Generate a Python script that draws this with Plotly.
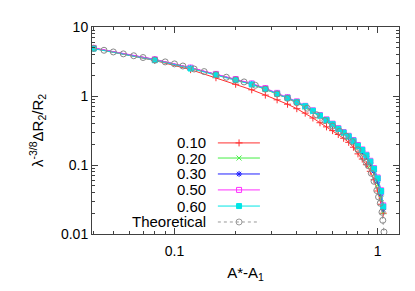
import plotly.graph_objects as go

# ---------------- data ----------------
THEORY_X = [0.04, 0.045, 0.05, 0.056, 0.063, 0.07, 0.08, 0.09, 0.1, 0.11, 0.125, 0.14,
            0.16, 0.18, 0.2, 0.22, 0.25, 0.28, 0.32, 0.36, 0.4, 0.45, 0.5, 0.55, 0.6,
            0.65, 0.7, 0.75, 0.8, 0.85, 0.88, 0.9, 0.93, 0.96, 0.99, 1.01, 1.03, 1.05,
            1.06, 1.074]
THEORY_Y = [4.91, 4.60, 4.35, 4.08, 3.83, 3.61, 3.34, 3.12, 2.92, 2.72, 2.46, 2.26,
            2.04, 1.87, 1.72, 1.60, 1.43, 1.26, 1.07, 0.925, 0.80, 0.665, 0.536, 0.44, 0.366,
            0.308, 0.262, 0.218, 0.166, 0.129, 0.109, 0.098, 0.076, 0.058, 0.0427, 0.0344, 0.0279, 0.0207,
            0.0158, 0.0107]

SIM_X = [0.04, 0.08, 0.12, 0.16, 0.2, 0.24, 0.28, 0.32, 0.36, 0.4, 0.44, 0.48, 0.52,
         0.56, 0.6, 0.64, 0.68, 0.72, 0.76, 0.8, 0.84, 0.88, 0.92, 0.96, 1.0, 1.04, 1.065]
Y_010 = [4.90, 3.27, 2.41, 1.84, 1.48, 1.23, 1.03, 0.88, 0.76, 0.655, 0.565, 0.48, 0.41,
         0.357, 0.315, 0.277, 0.244, 0.213, 0.181, 0.145, 0.122, 0.101, 0.081, 0.061, 0.042, 0.027, 0.020]
Y_020 = [4.95, 3.36, 2.55, 2.06, 1.73, 1.48, 1.26, 1.07, 0.93, 0.80, 0.69, 0.59, 0.50,
         0.43, 0.372, 0.322, 0.285, 0.25, 0.215, 0.178, 0.150, 0.124, 0.098, 0.074, 0.052, 0.033, 0.021]
Y_030 = [4.93, 3.38, 2.56, 2.07, 1.74, 1.50, 1.28, 1.09, 0.945, 0.82, 0.705, 0.605, 0.515,
         0.445, 0.385, 0.332, 0.292, 0.257, 0.222, 0.186, 0.159, 0.133, 0.107, 0.082, 0.059, 0.038, 0.023]
Y_050 = [4.98, 3.40, 2.58, 2.09, 1.76, 1.52, 1.30, 1.11, 0.96, 0.835, 0.72, 0.62, 0.53,
         0.458, 0.397, 0.342, 0.30, 0.265, 0.23, 0.195, 0.168, 0.141, 0.115, 0.09, 0.066, 0.043, 0.026]
Y_060 = [4.85, 3.30, 2.50, 2.02, 1.70, 1.47, 1.26, 1.08, 0.94, 0.82, 0.71, 0.61, 0.52,
         0.45, 0.39, 0.335, 0.295, 0.26, 0.225, 0.19, 0.165, 0.138, 0.112, 0.088, 0.064, 0.042, 0.025]

LABELS = ["0.10", "0.20", "0.30", "0.50", "0.60", "Theoretical"]
X_TICKS = [0.1, 1]
X_TICK_TEXT = ["0.1", "1"]
Y_TICKS = [0.01, 0.1, 1, 10]
Y_TICK_TEXT = ["0.01", "0.1", "1", "10"]

# ---------------- styles ----------------
FONT = "Liberation Sans, Arial, sans-serif"
sim_styles = [
    (Y_010, "#ff3030", "cross-thin-open", 5),
    (Y_020, "#44ee44", "x-thin-open", 5),
    (Y_030, "#2020ff", "asterisk-open", 5),
    (Y_050, "#ff30ff", "square-open", 5),
    (Y_060, "#00e5e5", "square", 5),
]

fig = go.Figure()
for (ys, col, sym, sz), lab in zip(sim_styles, LABELS[:5]):
    fig.add_trace(go.Scatter(
        x=SIM_X, y=ys, mode="lines+markers", name=lab, showlegend=False,
        line=dict(color=col, width=1),
        marker=dict(symbol=sym, size=sz, color=col, line=dict(color=col, width=1)),
    ))
fig.add_trace(go.Scatter(
    x=THEORY_X, y=THEORY_Y, mode="lines+markers", name=LABELS[5], showlegend=False,
    line=dict(color="#999999", width=1, dash="dot"),
    marker=dict(symbol="circle-open", size=6, color="#888888", line=dict(color="#888888", width=1)),
))

# ---------------- manual gnuplot-style legend ----------------
leg_rows = [0.440, 0.367, 0.290, 0.213, 0.135, 0.058]
leg_styles = [(c, s, z, "solid") for (_, c, s, z) in sim_styles] + [("#999999", "circle-open", 6, "dot")]
for lab, yr, (col, sym, sz, dash) in zip(LABELS, leg_rows, leg_styles):
    fig.add_trace(go.Scatter(
        x=[0.41, 0.547], y=[yr, yr], xaxis="x2", yaxis="y2", mode="lines",
        line=dict(color=col, width=1, dash=dash), showlegend=False, hoverinfo="skip"))
    fig.add_trace(go.Scatter(
        x=[0.479], y=[yr], xaxis="x2", yaxis="y2", mode="markers",
        marker=dict(symbol=sym, size=sz, color=col, line=dict(color=col, width=1)),
        showlegend=False, hoverinfo="skip"))
    fig.add_annotation(x=0.378, y=yr, xref="paper", yref="paper", text=lab,
                       showarrow=False, xanchor="right", yanchor="middle",
                       font=dict(family=FONT, size=15, color="black"))

axis_common = dict(
    type="log", showgrid=False, zeroline=False, showline=True, linecolor="#404040",
    linewidth=1, mirror="allticks", ticks="inside", ticklen=6, tickcolor="#404040",
    tickfont=dict(family=FONT, size=14, color="black"),
    minor=dict(ticks="inside", ticklen=3, tickcolor="#404040", dtick="D1", showgrid=False),
)

# page body has an 8px default margin, so the figure is 8px smaller
fig.update_layout(
    width=407, height=283,
    margin=dict(l=84, r=16, t=11, b=57),
    paper_bgcolor="white", plot_bgcolor="white",
    font=dict(family=FONT, size=14, color="black"),
    xaxis=dict(axis_common, range=[-1.406, 0.105], tickvals=X_TICKS, ticktext=X_TICK_TEXT,
               ticklabelstandoff=4,
               title=dict(text="A*-A<sub>1</sub>", font=dict(family=FONT, size=15), standoff=9)),
    yaxis=dict(axis_common, range=[-2, 1], tickvals=Y_TICKS, ticktext=Y_TICK_TEXT,
               title=dict(text="λ<sup>-3/8</sup>ΔR<sub>2</sub>/R<sub>2</sub>",
                          font=dict(family=FONT, size=15), standoff=13)),
    xaxis2=dict(overlaying="x", range=[0, 1], visible=False, anchor="y2"),
    yaxis2=dict(overlaying="y", range=[0, 1], visible=False, anchor="x2"),
)

fig.write_html("out.html")
